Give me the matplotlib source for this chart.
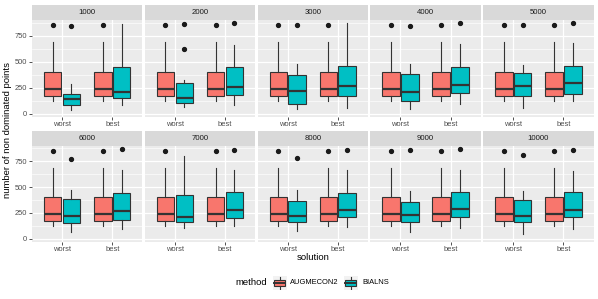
import matplotlib
matplotlib.use("Agg")
import matplotlib.pyplot as plt
from matplotlib.patches import Rectangle

plt.rcParams['font.family'] = ['Liberation Sans', 'DejaVu Sans']

## data (box stats: whislo, q1, med, q3, whishi)
sizes = [1000, 2000, 3000, 4000, 5000, 6000, 7000, 8000, 9000, 10000]
solutions = ['worst', 'best']
methods = ['AUGMECON2', 'BIALNS']
colors = ['#F8766D', '#00BFC4']

aug_stats = (125, 170, 238, 405, 688)
aug_out = [850]

bia_worst = [(39, 88, 142, 188, 285), (65, 107, 156, 298, 324),
             (49, 94, 220, 370, 477), (45, 123, 210, 380, 477),
             (58, 171, 266, 390, 470), (64, 154, 218, 385, 468),
             (100, 164, 209, 427, 798), (74, 164, 221, 366, 468),
             (64, 161, 228, 360, 465), (48, 164, 218, 379, 465)]
bia_worst_out = [[843], [862, 623], [850], [843], [857], [776], [], [786], [860], [812]]

bia_best = [(88, 152, 207, 448, 860), (88, 185, 253, 454, 665),
            (58, 171, 266, 458, 870), (97, 198, 273, 454, 672),
            (123, 188, 292, 464, 682), (90, 180, 269, 443, 670),
            (125, 196, 283, 452, 670), (110, 206, 283, 446, 667),
            (106, 206, 289, 449, 667), (90, 206, 279, 449, 654)]
bia_best_out = [[], [872], [], [878], [878], [866], [863], [856], [866], [860]]

W, H = 598, 299
fig = plt.figure(figsize=(W / 100, H / 100), dpi=100)


def px_axes(x0, y0, x1, y1):
    return fig.add_axes([x0 / W, 1 - y1 / H, (x1 - x0) / W, (y1 - y0) / H])


def stat(s, fl):
    return dict(whislo=s[0], q1=s[1], med=s[2], q3=s[3], whishi=s[4], fliers=fl)


pw, gap = 110.3, 2.5
rows = [(5, 20, 116.5), (130.5, 145.5, 241.5)]
edge = '#333333'

for k, size in enumerate(sizes):
    r, c = divmod(k, 5)
    x0 = 32 + c * (pw + gap)
    s0, p0, p1 = rows[r]

    # strip
    st = px_axes(x0, s0, x0 + pw, p0)
    st.set_facecolor('#D9D9D9')
    st.set_xticks([]); st.set_yticks([])
    for sp in st.spines.values():
        sp.set_visible(False)
    st.text(0.5, 0.5, str(size), ha='center', va='center', fontsize=5.6, color='#1A1A1A')

    ax = px_axes(x0, p0, x0 + pw, p1)
    ax.set_facecolor('#EBEBEB')
    for sp in ax.spines.values():
        sp.set_visible(False)
    ax.set_axisbelow(True)
    ax.set_xlim(0.4, 2.6)
    ax.set_ylim(-27, 903)
    ax.set_yticks([0, 250, 500, 750])
    ax.set_yticks([125, 375, 625, 875], minor=True)
    ax.set_xticks([1, 2])
    ax.set_xticklabels(solutions)
    ax.grid(True, which='major', color='white', lw=0.9)
    ax.grid(True, which='minor', axis='y', color='white', lw=0.45)
    ax.tick_params(which='major', length=2, width=0.6, color=edge, labelsize=5.4,
                   labelcolor='#4D4D4D', pad=1.5)
    ax.tick_params(which='minor', length=0)
    if c > 0:
        ax.tick_params(axis='y', which='major', length=0, labelleft=False)

    groups = [
        [stat(aug_stats, aug_out), stat(bia_worst[k], bia_worst_out[k])],
        [stat(aug_stats, aug_out), stat(bia_best[k], bia_best_out[k])],
    ]
    for gi, grp in enumerate(groups):
        for mi, s in enumerate(grp):
            pos = gi + 1 + (mi - 0.5) * 0.375
            ax.bxp([s], positions=[pos], widths=0.35, patch_artist=True,
                   showcaps=False, manage_ticks=False,
                   boxprops=dict(facecolor=colors[mi], edgecolor=edge, lw=0.8),
                   medianprops=dict(color=edge, lw=1.6),
                   whiskerprops=dict(color=edge, lw=0.8),
                   flierprops=dict(marker='o', markersize=2.8, markerfacecolor='#1A1A1A',
                                   markeredgecolor='#1A1A1A'))

## axis titles
fig.text(312.7 / W, 1 - 257 / H, 'solution', ha='center', va='center', fontsize=6.8)
fig.text(8 / W, 1 - 130 / H, 'number of non dominated points', rotation=90,
         ha='center', va='center', fontsize=6.8)

## legend
fig.text(251.5 / W, 1 - 282.7 / H, 'method', ha='center', va='center', fontsize=6.8)
key_x = [272.5, 343.5]
labels_x = [290, 362]
for mi, m in enumerate(methods):
    kx = key_x[mi]
    ka = px_axes(kx, 275.7, kx + 14, 289.7)
    ka.set_xlim(0, 1); ka.set_ylim(0, 1)
    ka.set_facecolor('#F2F2F2')
    ka.set_xticks([]); ka.set_yticks([])
    for sp in ka.spines.values():
        sp.set_visible(False)
    ka.plot([0.5, 0.5], [0.08, 0.28], color=edge, lw=0.8)
    ka.plot([0.5, 0.5], [0.72, 0.92], color=edge, lw=0.8)
    ka.add_patch(Rectangle((0.1, 0.28), 0.8, 0.44, facecolor=colors[mi], edgecolor=edge, lw=0.8))
    ka.plot([0.1, 0.9], [0.5, 0.5], color=edge, lw=1.4)
    fig.text(labels_x[mi] / W, 1 - 282.7 / H, m, ha='left', va='center', fontsize=5.4)

plt.savefig('out.png', dpi=100)
